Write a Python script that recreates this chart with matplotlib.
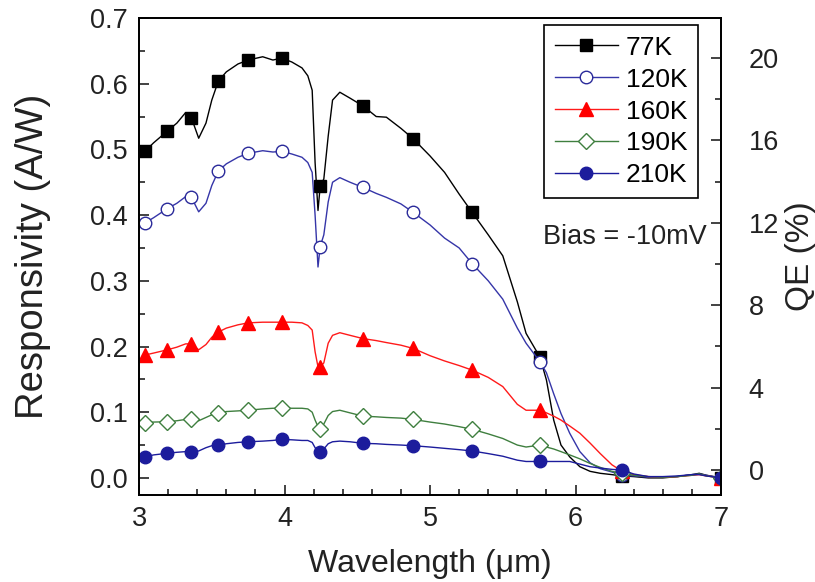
import numpy as np
import matplotlib.pyplot as plt

plt.rcParams['font.family'] = ['Liberation Sans', 'DejaVu Sans']

# wavelength grid (um)
wl = [3.04, 3.10, 3.195, 3.26, 3.32, 3.36, 3.41, 3.46, 3.50, 3.545,
      3.60, 3.68, 3.75, 3.85, 3.92, 3.98, 4.05, 4.12, 4.16, 4.19,
      4.21, 4.23, 4.245, 4.27, 4.30, 4.33, 4.38, 4.45, 4.54, 4.63,
      4.70, 4.80, 4.885, 5.00, 5.10, 5.20, 5.29, 5.40, 5.50, 5.60,
      5.66, 5.755, 5.80, 5.85, 5.90, 5.96, 6.03, 6.10, 6.17, 6.25,
      6.32, 6.40, 6.50, 6.60, 6.70, 6.80, 6.85, 6.90, 7.00]

# wavelengths where symbols are drawn
mark_wl = [3.04, 3.195, 3.36, 3.545, 3.75, 3.98, 4.245, 4.54, 4.885,
           5.29, 5.755, 6.32, 7.00]

r77 = [0.497, 0.510, 0.528, 0.540, 0.556, 0.548, 0.517, 0.540, 0.575, 0.604,
       0.618, 0.630, 0.636, 0.641, 0.636, 0.639, 0.633, 0.624, 0.612, 0.590,
       0.480, 0.407, 0.444, 0.455, 0.520, 0.575, 0.587, 0.578, 0.566, 0.550,
       0.549, 0.532, 0.516, 0.490, 0.465, 0.432, 0.404, 0.370, 0.338, 0.268,
       0.220, 0.184, 0.149, 0.088, 0.050, 0.032, 0.017, 0.010, 0.007, 0.005,
       0.003, 0.002, 0.000, 0.000, 0.002, 0.005, 0.007, 0.004, 0.000]

r120 = [0.388, 0.396, 0.410, 0.418, 0.428, 0.427, 0.405, 0.418, 0.445, 0.467,
        0.478, 0.488, 0.494, 0.498, 0.496, 0.497, 0.493, 0.488, 0.480, 0.465,
        0.400, 0.321, 0.352, 0.370, 0.420, 0.450, 0.457, 0.450, 0.442, 0.433,
        0.427, 0.417, 0.404, 0.385, 0.365, 0.350, 0.326, 0.300, 0.272, 0.228,
        0.205, 0.177, 0.160, 0.128, 0.098, 0.068, 0.040, 0.023, 0.014, 0.009,
        0.004, 0.003, 0.001, 0.001, 0.002, 0.005, 0.006, 0.004, 0.000]

r160 = [0.187, 0.190, 0.195, 0.199, 0.204, 0.204, 0.195, 0.203, 0.214, 0.222,
        0.228, 0.233, 0.236, 0.237, 0.237, 0.237, 0.237, 0.236, 0.232, 0.225,
        0.192, 0.169, 0.169, 0.175, 0.205, 0.217, 0.221, 0.217, 0.212, 0.209,
        0.206, 0.202, 0.197, 0.186, 0.178, 0.171, 0.164, 0.153, 0.139, 0.112,
        0.103, 0.103, 0.099, 0.094, 0.088, 0.079, 0.068, 0.053, 0.037, 0.020,
        0.010, 0.005, 0.002, 0.001, 0.002, 0.004, 0.005, 0.003, 0.000]

r190 = [0.084, 0.085, 0.0855, 0.087, 0.089, 0.089, 0.087, 0.092, 0.096, 0.099,
        0.101, 0.102, 0.103, 0.105, 0.106, 0.106, 0.106, 0.106, 0.105, 0.100,
        0.088, 0.078, 0.075, 0.082, 0.095, 0.101, 0.103, 0.099, 0.094, 0.093,
        0.092, 0.091, 0.089, 0.085, 0.082, 0.078, 0.074, 0.067, 0.060, 0.050,
        0.047, 0.050, 0.047, 0.044, 0.040, 0.035, 0.029, 0.022, 0.016, 0.010,
        0.007, 0.004, 0.002, 0.001, 0.002, 0.004, 0.006, 0.003, 0.000]

r210 = [0.032, 0.035, 0.0375, 0.039, 0.040, 0.040, 0.041, 0.046, 0.049, 0.050,
        0.052, 0.054, 0.055, 0.056, 0.057, 0.0586, 0.058, 0.057, 0.057, 0.054,
        0.046, 0.041, 0.040, 0.044, 0.052, 0.055, 0.056, 0.055, 0.0526, 0.052,
        0.051, 0.050, 0.049, 0.047, 0.045, 0.043, 0.041, 0.037, 0.033, 0.027,
        0.025, 0.025, 0.025, 0.025, 0.025, 0.025, 0.021, 0.017, 0.015, 0.013,
        0.012, 0.006, 0.002, 0.002, 0.003, 0.005, 0.005, 0.003, 0.000]

labels = ['77K', '120K', '160K', '190K', '210K']

fig = plt.figure(figsize=(8.15, 5.82), dpi=100)
ax = fig.add_axes([0.1706, 0.1495, 0.7141, 0.8196])

mask = list(np.isin(wl, mark_wl))

styles = [
    dict(color='black', marker='s', ms=8.5, mfc='black', mec='black'),
    dict(color='#3535a8', marker='o', ms=9, mfc='white', mec='#2a2a9a'),
    dict(color='#ff1a1a', marker='^', ms=10, mfc='#ff0000', mec='#ff0000'),
    dict(color='#3f7f3f', marker='D', ms=8, mfc='white', mec='#3f7f3f'),
    dict(color='#1c1c9c', marker='o', ms=9, mfc='#1c1c9c', mec='#1c1c9c'),
]
for ys, lab, st in zip([r77, r120, r160, r190, r210], labels, styles):
    ax.plot(wl, ys, lw=1.0, markevery=mask, label=lab, **st)

ax.set_xlim(3, 7)
ax.set_ylim(-0.026, 0.7)
ax.set_xticks([3, 4, 5, 6, 7])
ax.set_xticks(np.arange(3, 7.01, 0.2), minor=True)
ax.set_yticks(np.arange(0, 0.71, 0.1))
ax.set_yticks(np.arange(0, 0.71, 0.05), minor=True)
ax.set_yticklabels(['%.1f' % v for v in np.arange(0, 0.71, 0.1)])
ax.tick_params(which='both', direction='in', right=False, top=False,
               width=1.2, labelsize=19.5, colors='#222222')
ax.tick_params(which='major', length=7, pad=8)
ax.tick_params(which='minor', length=4)
ax.set_xlabel('Wavelength (\u03bcm)', fontsize=23, color='#222222', labelpad=12)
ax.set_ylabel('Responsivity (A/W)', fontsize=27.5, color='#222222', labelpad=28)

ax2 = ax.twinx()
ax2.set_ylim(-1.21, 21.94)
ax2.set_yticks([0, 4, 8, 12, 16, 20])
ax2.set_yticks(np.arange(0, 21, 2), minor=True)
ax2.tick_params(which='both', direction='in', width=1.2, labelsize=19.5,
                colors='#222222')
ax2.tick_params(which='major', length=7, pad=20)
ax2.tick_params(which='minor', length=4)
ax2.set_ylabel('QE (%)', fontsize=24, color='#222222', labelpad=4)

for a in (ax, ax2):
    for sp in a.spines.values():
        sp.set_linewidth(1.3)

leg = ax.legend(loc='upper right', bbox_to_anchor=(0.9605, 0.985),
                borderaxespad=0, fontsize=19, frameon=True, fancybox=False,
                framealpha=1, edgecolor='black', handlelength=2.4,
                labelspacing=0.3, handletextpad=0.3, borderpad=0.4)
leg.get_frame().set_linewidth(1.2)

ax.text(0.976, 0.541, 'Bias = -10mV', transform=ax.transAxes, ha='right',
        va='center', fontsize=19.5, color='#222222')

fig.savefig('out.png', dpi=100)
